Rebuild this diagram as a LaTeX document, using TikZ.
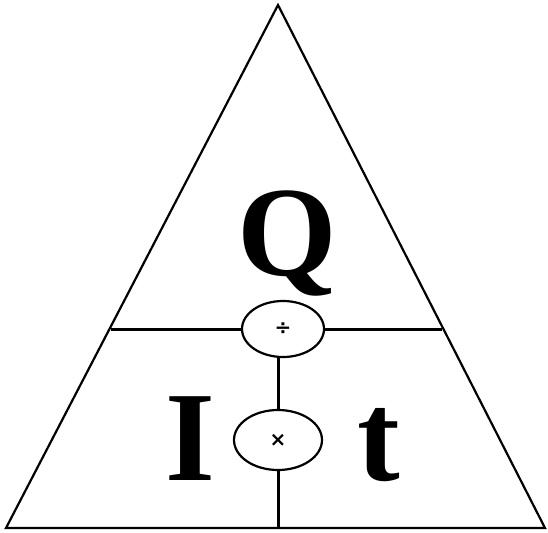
\documentclass[tikz,border=0pt]{standalone}
\usepackage{fontspec}
\setmainfont{Liberation Serif}
\newfontfamily\opfont{DejaVu Sans}
\usepackage{tikz}
\usetikzlibrary{shapes.geometric, calc}
\tikzset{
    edge/.style  ={draw=black, line width=2.2pt, line join=miter},
    split/.style ={draw=black, line width=3pt},
    op/.style    ={draw=black, line width=2.2pt, ellipse, fill=white,
                   inner sep=0pt, font=\opfont\fontsize{20}{20}\selectfont\bfseries},
    qty/.style   ={inner sep=0pt, anchor=base,
                   font=\fontsize{128}{128}\selectfont\bfseries}
}

\begin{document}
\begin{tikzpicture}[x=1pt, y=-1pt]
  \useasboundingbox (0,0) rectangle (548,532);

  % outer triangle
  \coordinate (top)   at (278,  5);
  \coordinate (left)  at (  6,528);
  \coordinate (right) at (545,528);
  \draw[edge] (left) -- (top) -- (right) -- cycle;

  % operator ellipses
  \node[op, minimum width=82pt, minimum height=56pt] (div)   at (283,329) {÷};
  \node[op, minimum width=88pt, minimum height=60pt] (times) at (278,440) {×};

  % dividing lines
  \coordinate (hl) at ($(left)!0.3843!(top)$);
  \coordinate (hr) at ($(right)!0.3843!(top)$);
  \draw[split] (hl |- div) -- (div.west);
  \draw[split] (div.east) -- (hr |- div);
  \draw[split] (times |- div.south) -- (times.north);
  \draw[split] (times.south) -- (times |- left);

  % quantities
  \node[qty] (Q) at (287,275) {Q};
  \node[qty] (I) at (190,480) {I};
  \node[qty] (t) at (379,480) {t};
\end{tikzpicture}
\end{document}
